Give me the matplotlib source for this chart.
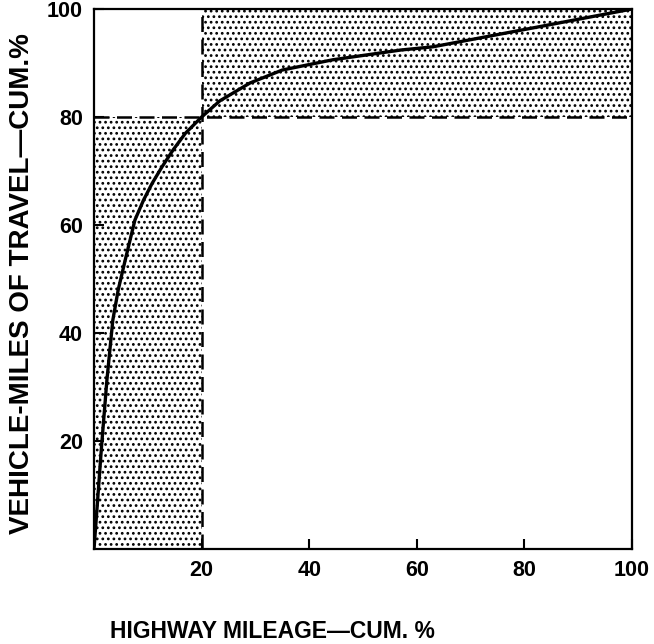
import matplotlib.pyplot as plt

plt.rcParams['font.family'] = ['Liberation Sans', 'DejaVu Sans']
plt.rcParams['hatch.linewidth'] = 1.2

# cumulative curve
mileage = [0, 0.5, 1.4, 2.4, 3.5, 4.5, 5.8, 7.6, 9.2, 10.8, 12.6, 14.7, 17, 20,
           23.4, 29, 35, 44.4, 57, 63, 81.6, 100]
travel = [0, 6.7, 19, 31.3, 42.4, 48, 53.5, 60.9, 64.6, 67.7, 70.7, 73.9, 77, 80,
          83, 86.3, 88.7, 90.6, 92.4, 93, 96.5, 100]

x_ticks = [20, 40, 60, 80, 100]
y_ticks = [20, 40, 60, 80, 100]
cut_x, cut_y = 20, 80

fig = plt.figure(figsize=(6.54, 6.44), dpi=100)
ax = fig.add_axes([94 / 654, 95 / 644, 538 / 654, 540 / 644])

# shaded regions
ax.fill_between([0, cut_x], 0, cut_y, facecolor='white', edgecolor='black',
                hatch='...', linewidth=0)
ax.fill_between([cut_x, 100], cut_y, 100, facecolor='white', edgecolor='black',
                hatch='...', linewidth=0)

ax.axvline(cut_x, color='black', lw=1.8, ls=(0, (6, 3)))
ax.axhline(cut_y, color='black', lw=1.8, ls=(0, (6, 3)))

ax.plot(mileage, travel, color='black', lw=2.4, solid_capstyle='round',
        solid_joinstyle='round')

ax.set_xlim(0, 100)
ax.set_ylim(0, 100)
ax.set_xticks(x_ticks)
ax.set_yticks(y_ticks)
ax.tick_params(direction='in', length=7, width=1.5, labelsize=15.5, pad=8)
for lab in ax.get_xticklabels() + ax.get_yticklabels():
    lab.set_fontweight('bold')
for sp in ax.spines.values():
    sp.set_linewidth(1.6)

fig.text(272 / 654, 1 - 631 / 644, 'HIGHWAY MILEAGE—CUM. %', ha='center', va='center',
         fontsize=16.5, fontweight='bold')
fig.text(22 / 654, 1 - 284 / 644, 'VEHICLE-MILES OF TRAVEL—CUM.%', ha='center', va='center',
         rotation=90, fontsize=20, fontweight='bold')

fig.savefig('out.png', dpi=100)
